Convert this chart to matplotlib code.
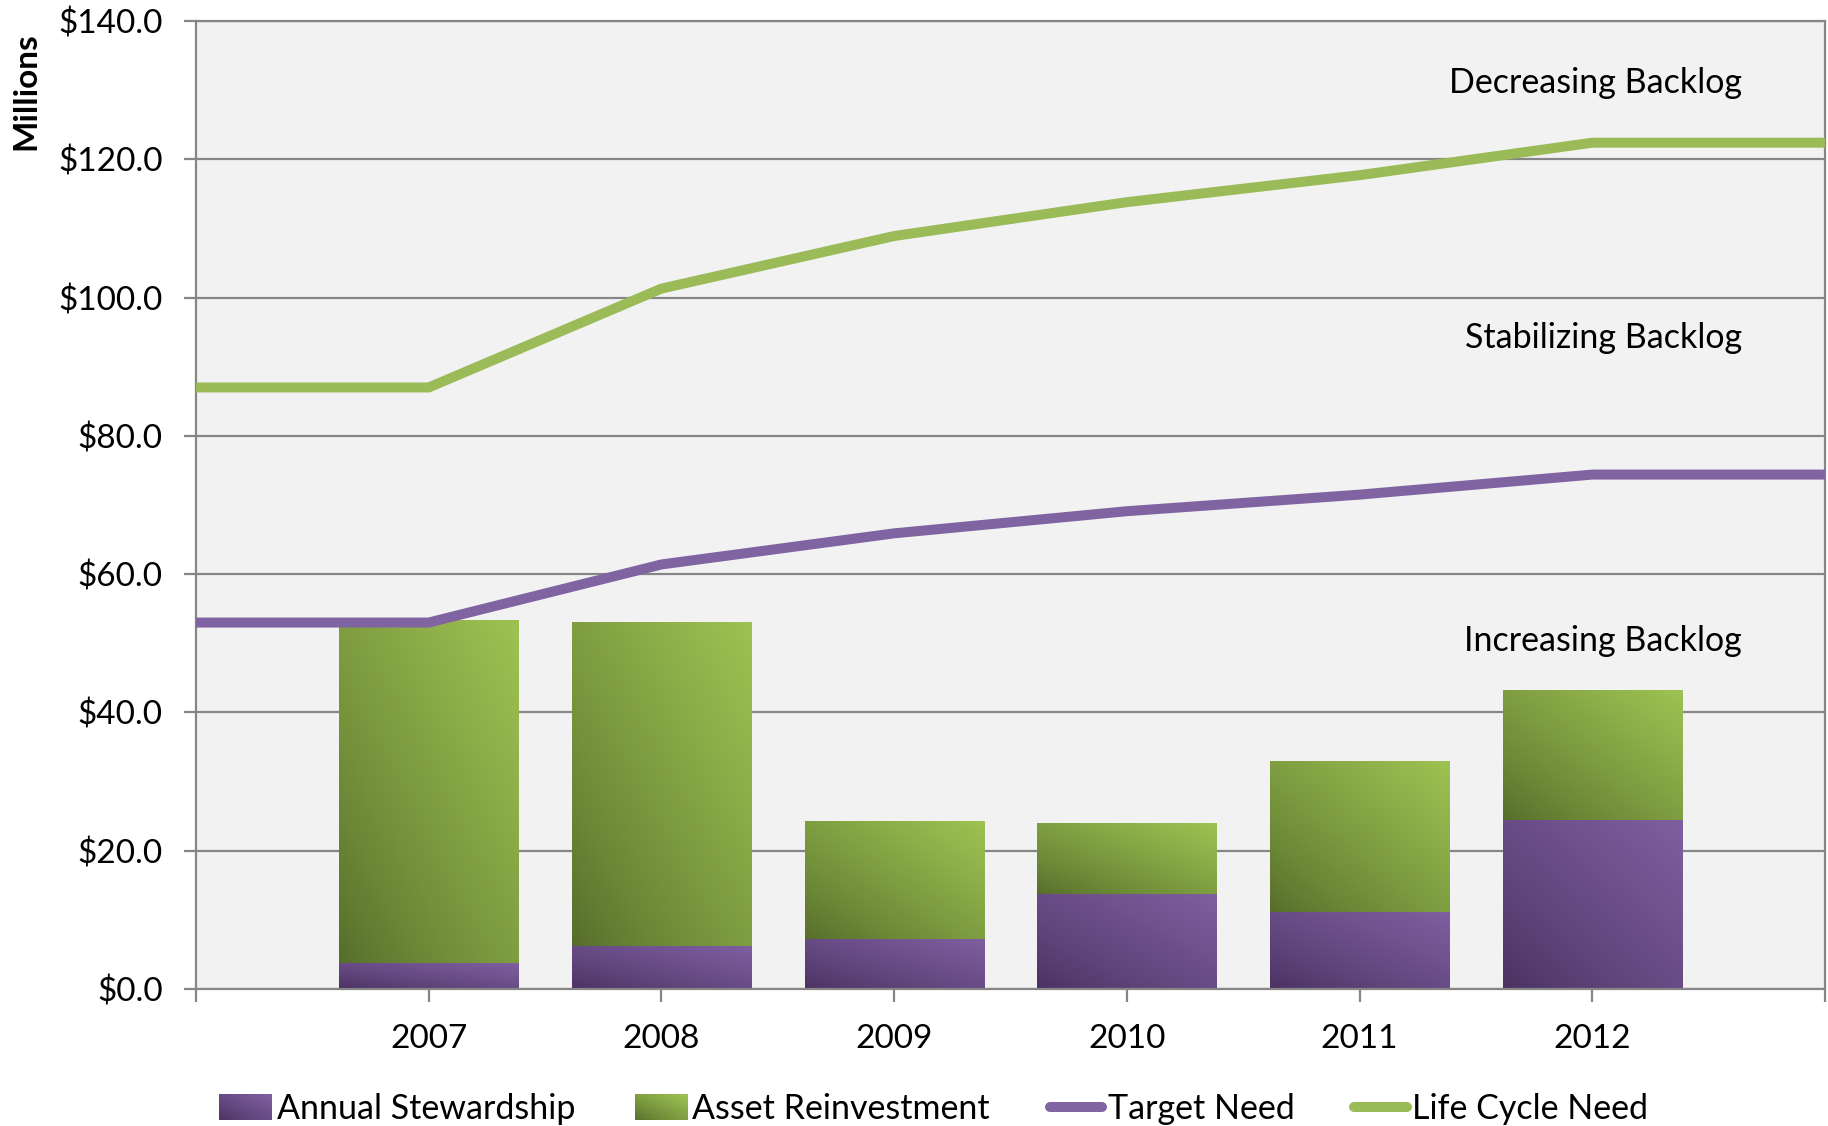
import numpy as np
import matplotlib
matplotlib.use("Agg")
import matplotlib.pyplot as plt
from matplotlib.lines import Line2D
from matplotlib.patches import Patch, Rectangle
from matplotlib.legend_handler import HandlerBase
from matplotlib.colors import to_rgb

# ---- data (millions of dollars) ----
years = ["2007", "2008", "2009", "2010", "2011", "2012"]
annual_stewardship = [3.7, 6.2, 7.3, 13.8, 11.1, 24.5]
asset_reinvestment = [49.6, 46.8, 17.0, 10.2, 21.8, 18.8]

# need lines run one step past the bars on each side
line_years = [2006, 2007, 2008, 2009, 2010, 2011, 2012, 2013]
target_need = [53.0, 53.0, 61.4, 65.9, 69.1, 71.5, 74.4, 74.4]
life_cycle_need = [87.0, 87.0, 101.3, 108.9, 113.8, 117.7, 122.4, 122.4]

zone_labels = ["Decreasing Backlog", "Stabilizing Backlog", "Increasing Backlog"]
zone_label_y = [131.0, 94.2, 50.3]

FONT = "Lato"
plt.rcParams["font.family"] = [FONT, "DejaVu Sans"]
FS = 24

PURPLE = "#8064A2"
GREEN = "#9BBB59"
PURPLE_DARK, PURPLE_LIGHT = "#4A3160", "#7E5FA0"
GREEN_DARK, GREEN_LIGHT = "#556C2A", "#9EC252"
GRID = "#868686"


def shade(c_dark, c_light, t):
    d = np.array(to_rgb(c_dark))
    l = np.array(to_rgb(c_light))
    return d + (l - d) * np.asarray(t)[..., None]


fig = plt.figure(figsize=(18.28, 11.26), dpi=100)
ax = fig.add_axes([196 / 1828, 1 - 989 / 1126, 1629 / 1828, (989 - 21) / 1126])
ax.set_facecolor("#F2F2F2")

x = np.arange(len(years))
bar_w = 0.77


def gradient_fill(bar, c_dark, c_light):
    """Paint a diagonal dark-to-light gradient over a bar rectangle."""
    x0, y0 = bar.get_x(), bar.get_y()
    w, h = bar.get_width(), bar.get_height()
    n = 200
    U, V = np.meshgrid(np.linspace(0, 1, n), np.linspace(0, 1, n))
    img = shade(c_dark, c_light, ((U + V) / 2.0) ** 0.8)
    ax.imshow(img, extent=(x0, x0 + w, y0, y0 + h), origin="lower",
              aspect="auto", zorder=2, interpolation="bilinear")
    bar.set_visible(False)


class GradientHandler(HandlerBase):
    """Legend key drawn as a small diagonal gradient swatch."""

    def __init__(self, c_dark, c_light, **kw):
        super().__init__(**kw)
        self.c_dark, self.c_light = c_dark, c_light

    def create_artists(self, legend, orig_handle, xdescent, ydescent,
                       width, height, fontsize, trans):
        nx, ny = 26, 12
        arts = []
        for i in range(nx):
            for j in range(ny):
                t = (((i + 0.5) / nx + (j + 0.5) / ny) / 2.0) ** 0.8
                r = Rectangle((-xdescent + i * width / nx,
                               -ydescent + j * height / ny),
                              width / nx * 1.1, height / ny * 1.1,
                              facecolor=shade(self.c_dark, self.c_light, t),
                              edgecolor="none", antialiased=False,
                              transform=trans)
                arts.append(r)
        return arts


bars_a = ax.bar(x, annual_stewardship, width=bar_w, color=PURPLE, zorder=2)
bars_b = ax.bar(x, asset_reinvestment, width=bar_w, bottom=annual_stewardship,
                color=GREEN, zorder=2)
for b in bars_a:
    gradient_fill(b, PURPLE_DARK, PURPLE_LIGHT)
for b in bars_b:
    gradient_fill(b, GREEN_DARK, GREEN_LIGHT)

line_x = np.array(line_years) - int(years[0])
ax.plot(line_x, target_need, color=PURPLE, lw=7.2, zorder=3,
        solid_joinstyle="miter")
ax.plot(line_x, life_cycle_need, color=GREEN, lw=7.2, zorder=3,
        solid_joinstyle="miter")

ax.set_xlim(-1, len(years))
ax.set_ylim(0, 140)

# axes styling
ax.set_axisbelow(True)
ax.yaxis.grid(True, color=GRID, lw=1.6)
for s in ax.spines.values():
    s.set_color(GRID)
    s.set_linewidth(1.6)

ax.set_yticks(np.arange(0, 141, 20))
ax.set_yticklabels([f"${v:.1f}" for v in np.arange(0, 141, 20)])
ax.set_xticks(np.arange(-1, len(years) + 1))
ax.set_xticklabels([""] + years + [""])
ax.tick_params(axis="both", colors=GRID, length=9, width=1.6,
               labelcolor="black", labelsize=FS)
ax.tick_params(axis="y", pad=15)
ax.tick_params(axis="x", pad=16)

fig.text(26 / 1828, 1 - 91 / 1126, "Millions", rotation=90, ha="center",
         va="center", fontsize=FS, fontweight="bold")

for lbl, yv in zip(zone_labels, zone_label_y):
    ax.text(0.949, yv, lbl, transform=ax.get_yaxis_transform(), ha="right",
            va="center", fontsize=FS + 0.5)

h_stew = Patch(facecolor=PURPLE, edgecolor="none")
h_reinv = Patch(facecolor=GREEN, edgecolor="none")
handles = [
    h_stew,
    h_reinv,
    Line2D([], [], color=PURPLE, lw=7.2, solid_capstyle="round"),
    Line2D([], [], color=GREEN, lw=7.2, solid_capstyle="round"),
]
labels = ["Annual Stewardship", "Asset Reinvestment", "Target Need",
          "Life Cycle Need"]
fig.legend(handles, labels, loc="center", bbox_to_anchor=(0.5105, 1 - 1109 / 1126),
           ncol=4, frameon=False, fontsize=FS + 0.5, handlelength=1.55,
           handleheight=0.75, handletextpad=0.15, columnspacing=1.75,
           handler_map={h_stew: GradientHandler(PURPLE_DARK, PURPLE_LIGHT),
                        h_reinv: GradientHandler(GREEN_DARK, GREEN_LIGHT)})

fig.savefig("out.png", dpi=100)
